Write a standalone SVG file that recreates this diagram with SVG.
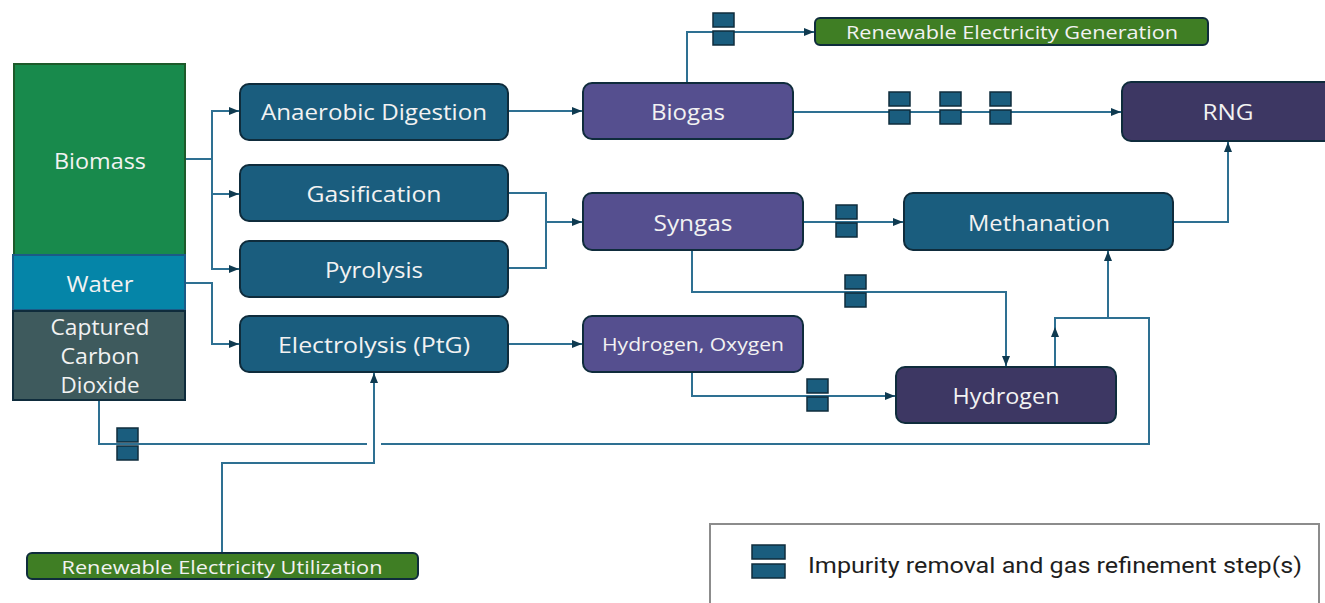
<svg xmlns="http://www.w3.org/2000/svg" width="1325" height="603" viewBox="0 0 1325 603">
  <defs>
    <style>
      .lbl { font-family: "Open Sans", "Liberation Sans", sans-serif; font-size: 22px; fill: #F2F2F2; text-anchor: middle; dominant-baseline: central; }
      .sm { font-size: 19px; }
      .proc { fill: #1A5D7E; stroke: #0F2C3C; stroke-width: 2; }
      .gas { fill: #554F8F; stroke: #0F2C3C; stroke-width: 2; }
      .prod { fill: #3D3763; stroke: #0F2C3C; stroke-width: 2; }
      .elec { fill: #3F7E24; stroke: #0F2C3C; stroke-width: 2; }
      .wire { fill: none; stroke: #2E7092; stroke-width: 2; }
      .sepbox { fill: #1A5D7E; stroke: #0F2C3C; stroke-width: 1.5; }
    </style>
    <marker id="arr" viewBox="0 0 10 10" refX="10" refY="5" markerWidth="11" markerHeight="10" markerUnits="userSpaceOnUse" orient="auto">
      <path d="M0,1 L10,5 L0,9 Z" fill="#0F3A50"/>
    </marker>
    <!-- refinement step glyph: two stacked blocks -->
    <g id="sep">
      <rect class="sepbox" x="0" y="0" width="21" height="14"/>
      <rect class="sepbox" x="0" y="18" width="21" height="14"/>
    </g>
  </defs>

  <rect width="1325" height="603" fill="#FFFFFF"/>

  <!-- connectors -->
  <g id="connectors">
    <path class="wire" d="M186,159 H212 V111 H239" marker-end="url(#arr)"/>
    <path class="wire" d="M212,159 V194 H239" marker-end="url(#arr)"/>
    <path class="wire" d="M212,194 V269 H239" marker-end="url(#arr)"/>
    <path class="wire" d="M186,283 H212 V344 H239" marker-end="url(#arr)"/>
    <path class="wire" d="M508,111 H582" marker-end="url(#arr)"/>
    <path class="wire" d="M508,193 H546 V222 H582" marker-end="url(#arr)"/>
    <path class="wire" d="M508,268 H546 V222"/>
    <path class="wire" d="M508,344 H582" marker-end="url(#arr)"/>
    <path class="wire" d="M687,83 V32 H814" marker-end="url(#arr)"/>
    <path class="wire" d="M793,112 H1121" marker-end="url(#arr)"/>
    <path class="wire" d="M803,222 H903" marker-end="url(#arr)"/>
    <path class="wire" d="M692,250 V292 H1006 V366" marker-end="url(#arr)"/>
    <path class="wire" d="M692,372 V396 H895" marker-end="url(#arr)"/>
    <path class="wire" d="M1173,222 H1228 V142" marker-end="url(#arr)"/>
    <path class="wire" d="M1055,367 V318 H1149 V444 H381"/>
    <path class="wire" d="M1055,345 V327" marker-end="url(#arr)"/>
    <path class="wire" d="M1108,318 V251" marker-end="url(#arr)"/>
    <path class="wire" d="M367,444 H99 V400"/>
    <path class="wire" d="M222,553 V463 H374 V373" marker-end="url(#arr)"/>

    <use href="#sep" x="713" y="13"/>
    <use href="#sep" x="889" y="92"/>
    <use href="#sep" x="940" y="92"/>
    <use href="#sep" x="990" y="92"/>
    <use href="#sep" x="836" y="205"/>
    <use href="#sep" x="845" y="275"/>
    <use href="#sep" x="807" y="379"/>
    <use href="#sep" x="117" y="428"/>
  </g>

  <!-- feedstocks -->
  <g id="biomass">
    <rect x="14" y="64" width="171" height="191" fill="#188A4C" stroke="#1D5A2A" stroke-width="2"/>
    <text class="lbl" x="100" y="160" textLength="92" lengthAdjust="spacingAndGlyphs">Biomass</text>
  </g>
  <g id="water">
    <rect x="13" y="255" width="172" height="55" fill="#0585A8" stroke="#1B5A86" stroke-width="2"/>
    <text class="lbl" x="100" y="283" textLength="67" lengthAdjust="spacingAndGlyphs">Water</text>
  </g>
  <g id="co2">
    <rect x="13" y="311" width="172" height="89" fill="#3E5A5D" stroke="#0F2C3C" stroke-width="2"/>
    <text class="lbl" x="100" y="326" textLength="99" lengthAdjust="spacingAndGlyphs">Captured</text>
    <text class="lbl" x="100" y="355" textLength="79" lengthAdjust="spacingAndGlyphs">Carbon</text>
    <text class="lbl" x="100" y="384" textLength="79" lengthAdjust="spacingAndGlyphs">Dioxide</text>
  </g>

  <!-- conversion processes -->
  <g id="anaerobic-digestion">
    <rect class="proc" x="240" y="84" width="268" height="56" rx="9"/>
    <text class="lbl" x="374" y="111" textLength="226" lengthAdjust="spacingAndGlyphs">Anaerobic Digestion</text>
  </g>
  <g id="gasification">
    <rect class="proc" x="240" y="165" width="268" height="56" rx="9"/>
    <text class="lbl" x="374" y="193" textLength="135" lengthAdjust="spacingAndGlyphs">Gasification</text>
  </g>
  <g id="pyrolysis">
    <rect class="proc" x="240" y="241" width="268" height="56" rx="9"/>
    <text class="lbl" x="374" y="269" textLength="98" lengthAdjust="spacingAndGlyphs">Pyrolysis</text>
  </g>
  <g id="electrolysis">
    <rect class="proc" x="240" y="316" width="268" height="56" rx="9"/>
    <text class="lbl" x="374" y="344" textLength="192" lengthAdjust="spacingAndGlyphs">Electrolysis (PtG)</text>
  </g>

  <!-- intermediate gases -->
  <g id="biogas">
    <rect class="gas" x="583" y="83" width="210" height="56" rx="9"/>
    <text class="lbl" x="688" y="111" textLength="74" lengthAdjust="spacingAndGlyphs">Biogas</text>
  </g>
  <g id="syngas">
    <rect class="gas" x="583" y="193" width="220" height="57" rx="9"/>
    <text class="lbl" x="693" y="222" textLength="79" lengthAdjust="spacingAndGlyphs">Syngas</text>
  </g>
  <g id="hydrogen-oxygen">
    <rect class="gas" x="583" y="316" width="220" height="56" rx="9"/>
    <text class="lbl sm" x="693" y="344" textLength="182" lengthAdjust="spacingAndGlyphs">Hydrogen, Oxygen</text>
  </g>
  <g id="methanation">
    <rect class="proc" x="904" y="193" width="269" height="57" rx="9"/>
    <text class="lbl" x="1039" y="222" textLength="142" lengthAdjust="spacingAndGlyphs">Methanation</text>
  </g>
  <g id="hydrogen">
    <rect class="prod" x="896" y="367" width="220" height="56" rx="9"/>
    <text class="lbl" x="1006" y="395" textLength="107" lengthAdjust="spacingAndGlyphs">Hydrogen</text>
  </g>
  <g id="rng">
    <rect class="prod" x="1122" y="82" width="215" height="59" rx="9"/>
    <text class="lbl" x="1228" y="111" textLength="51" lengthAdjust="spacingAndGlyphs">RNG</text>
  </g>

  <!-- electricity -->
  <g id="electricity-generation">
    <rect class="elec" x="815" y="18" width="393" height="27" rx="5"/>
    <text class="lbl sm" x="1012" y="32" textLength="332" lengthAdjust="spacingAndGlyphs">Renewable Electricity Generation</text>
  </g>
  <g id="electricity-utilization">
    <rect class="elec" x="27" y="553" width="391" height="26" rx="5"/>
    <text class="lbl sm" x="222" y="567" textLength="321" lengthAdjust="spacingAndGlyphs">Renewable Electricity Utilization</text>
  </g>

  <!-- legend -->
  <g id="legend">
    <rect x="710" y="524" width="609" height="90" fill="#FFFFFF" stroke="#8C8C8C" stroke-width="2"/>
    <rect class="sepbox" x="752" y="545" width="33" height="14"/>
    <rect class="sepbox" x="752" y="564" width="33" height="14"/>
    <text x="808" y="565" font-family="Roboto, 'Liberation Sans', sans-serif" font-size="22" fill="#1E1E1E" dominant-baseline="central" textLength="494" lengthAdjust="spacingAndGlyphs">Impurity removal and gas refinement step(s)</text>
  </g>
</svg>
